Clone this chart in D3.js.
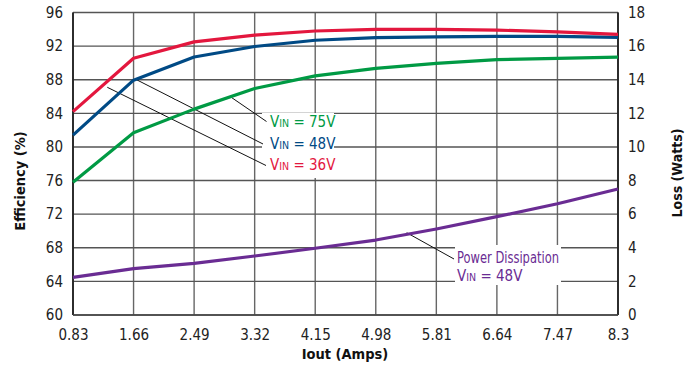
<!DOCTYPE html>
<html><head><meta charset="utf-8">
<script src="https://cdn.jsdelivr.net/npm/d3@7"></script>
<style>
body{margin:0;background:#fff;}
svg{display:block;}
text{font-family:"DejaVu Sans Condensed","Liberation Sans",sans-serif;}
</style></head><body>
<svg id="c" width="686" height="366"></svg>
<script>
const iout = [0.83,1.66,2.49,3.32,4.15,4.98,5.81,6.64,7.47,8.3];
const xTickLabels = ["0.83","1.66","2.49","3.32","4.15","4.98","5.81","6.64","7.47","8.3"];
const eff36 = [84.2,90.55,92.5,93.3,93.8,94.0,94.0,93.9,93.7,93.4];
const eff48 = [81.4,87.95,90.7,91.95,92.7,93.0,93.1,93.15,93.15,93.05];
const eff75 = [75.8,81.7,84.5,86.95,88.45,89.35,89.95,90.4,90.55,90.7];
const loss48 = [2.24,2.76,3.07,3.51,3.97,4.46,5.12,5.85,6.62,7.5];
const effTicks = [60,64,68,72,76,80,84,88,92,96];
const lossTicks = [0,2,4,6,8,10,12,14,16,18];

const svg = d3.select("#c");
const L=73, R=618, T=12.5, B=315;
const x = d3.scaleLinear().domain([0.83,8.3]).range([L,R]);
const yE = d3.scaleLinear().domain([60,96]).range([B,T]);
const yL = d3.scaleLinear().domain([0,18]).range([B,T]);

// grid
const g = svg.append("g");
g.selectAll("line.v").data(iout).join("line")
  .attr("x1",d=>x(d)).attr("x2",d=>x(d)).attr("y1",T).attr("y2",B)
  .attr("stroke","#666").attr("stroke-width",1.4);
g.selectAll("line.h").data(effTicks).join("line")
  .attr("x1",L).attr("x2",R).attr("y1",d=>yE(d)).attr("y2",d=>yE(d))
  .attr("stroke","#555").attr("stroke-width",1.4);
// frame
svg.append("line").attr("x1",L).attr("x2",L).attr("y1",T).attr("y2",B).attr("stroke","#222").attr("stroke-width",1.8);
svg.append("line").attr("x1",R).attr("x2",R).attr("y1",T).attr("y2",B).attr("stroke","#222").attr("stroke-width",1.8);
svg.append("line").attr("x1",L).attr("x2",R).attr("y1",B).attr("y2",B).attr("stroke","#444").attr("stroke-width",1.4);

// axes
const axL = d3.axisLeft(yE).tickValues(effTicks).tickSize(0).tickPadding(10);
const axR = d3.axisRight(yL).tickValues(lossTicks).tickSize(0).tickPadding(10);
const axB = d3.axisBottom(x).tickValues(iout).tickFormat((d,i)=>xTickLabels[i]).tickSize(0).tickPadding(14);
function style(sel){sel.select(".domain").remove();sel.selectAll("text").attr("font-size",15).attr("fill","#222")
  .style("font-family",'"DejaVu Sans Condensed","Liberation Sans",sans-serif');}
svg.append("g").attr("transform",`translate(${L},0)`).call(axL).call(style);
svg.append("g").attr("transform",`translate(${R},0)`).call(axR).call(style);
svg.append("g").attr("transform",`translate(0,${B})`).call(axB).call(style);

// white label boxes
svg.append("rect").attr("x",262).attr("y",113).attr("width",72).attr("height",65).attr("fill","#fff");
svg.append("rect").attr("x",455).attr("y",245).attr("width",106).attr("height",40).attr("fill","#fff");

// leader lines
const leaders = [
  [x(1.3),yE(87.1),266,165.5],
  [x(1.66)+3,yE(88),263,144],
  [x(3.0),yE(85.9),266.5,121.5],
  [406.7,232.7,454,259]
];
svg.selectAll("line.ld").data(leaders).join("line")
  .attr("x1",d=>d[0]).attr("y1",d=>d[1]).attr("x2",d=>d[2]).attr("y2",d=>d[3])
  .attr("stroke","#111").attr("stroke-width",1);

// series
const line = (ys,sc)=>d3.line().x((d,i)=>x(iout[i])).y(d=>sc(d))(ys);
const series = [
  {v:eff75,c:"#009A44",s:yE},
  {v:eff48,c:"#004A85",s:yE},
  {v:eff36,c:"#E3173E",s:yE},
  {v:loss48,c:"#6A2C93",s:yL}
];
svg.selectAll("path.s").data(series).join("path")
  .attr("d",d=>line(d.v,d.s)).attr("fill","none").attr("stroke",d=>d.c)
  .attr("stroke-width",3.2).attr("stroke-linejoin","round");

// labels
function vin(xp,yp,val,col){
  const t = svg.append("text").attr("x",xp).attr("y",yp).attr("fill",col).attr("font-size",15);
  t.append("tspan").text("V");
  t.append("tspan").attr("font-size",10.5).text("IN");
  t.append("tspan").text(" = "+val);
}
vin(270,127,"75V","#009A44");
vin(270,148.5,"48V","#004A85");
vin(270,169.5,"36V","#E3173E");
svg.append("text").attr("x",457).attr("y",262.5).attr("fill","#6A2C93").attr("font-size",15)
  .attr("textLength",102).attr("lengthAdjust","spacingAndGlyphs").text("Power Dissipation");
vin(457,281,"48V","#6A2C93");

// axis titles
svg.append("text").attr("transform","translate(25,181) rotate(-90)").attr("text-anchor","middle")
  .attr("font-size",14.5).attr("font-weight","bold").attr("fill","#111").text("Efficiency (%)");
svg.append("text").attr("transform","translate(682,173) rotate(-90)").attr("text-anchor","middle")
  .attr("font-size",14).attr("font-weight","bold").attr("fill","#111").text("Loss (Watts)");
svg.append("text").attr("x",345).attr("y",359).attr("text-anchor","middle")
  .attr("font-size",14.5).attr("font-weight","bold").attr("fill","#111").text("Iout (Amps)");
</script>
</body></html>
